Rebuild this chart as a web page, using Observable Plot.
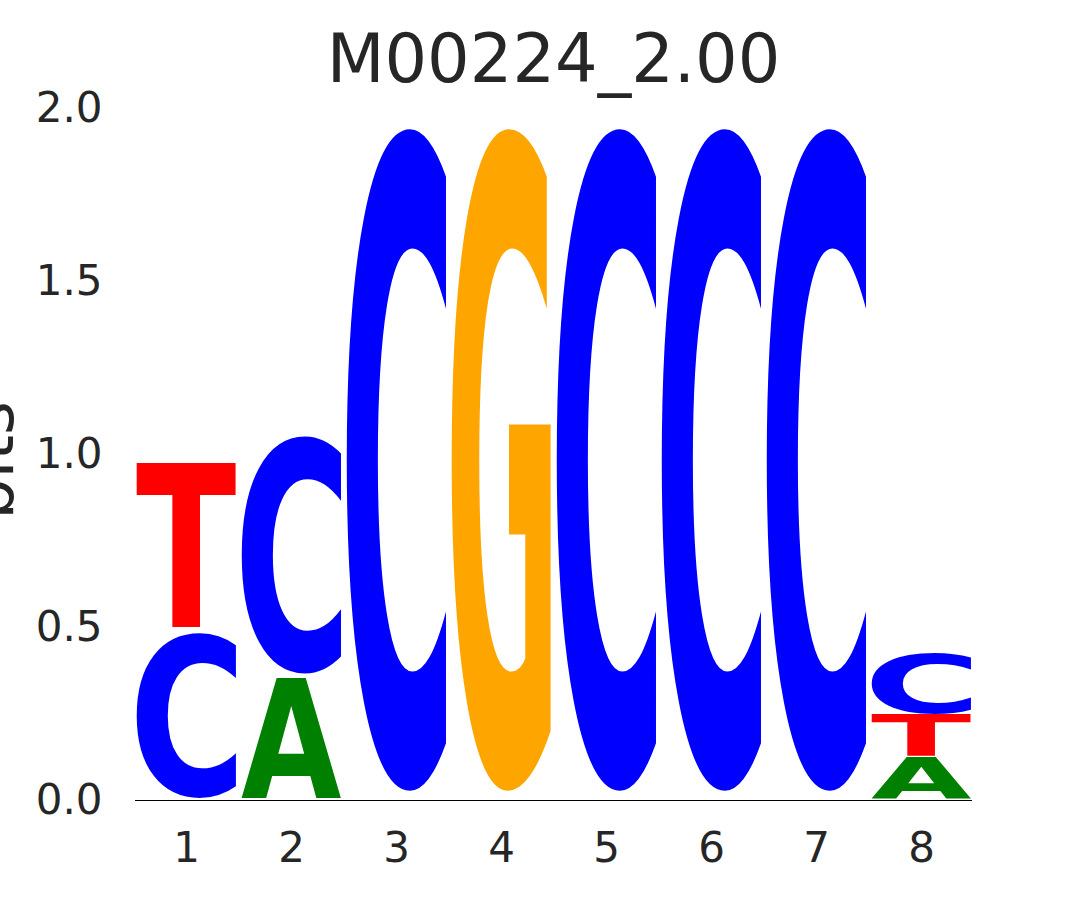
<!DOCTYPE html>
<html><head><meta charset="utf-8">
<script src="https://cdn.jsdelivr.net/npm/d3@7"></script>
<script src="https://cdn.jsdelivr.net/npm/@observablehq/plot@0.6"></script>
<style>
html,body{margin:0;padding:0;background:#fff;overflow:hidden}
#wrap{position:relative;width:1080px;height:900px}
#chart{position:absolute;left:0;top:0}
#title{position:absolute;left:0;top:19px;width:1107px;text-align:center;font-family:'DejaVu Sans',sans-serif;font-size:67px;line-height:80px;color:#262626;z-index:2}
</style></head><body>
<div id="wrap"><div id="chart"></div><div id="title"></div></div>
<script>
const title = "M00224_2.00";
const yLabel = "bits";
const positions = [1, 2, 3, 4, 5, 6, 7, 8];
const glyphPos  = [1, 1, 2, 2, 3, 4, 5, 6, 7, 8, 8, 8];
const glyphBase = ["C", "T", "A", "C", "C", "G", "C", "C", "C", "A", "T", "C"];
const glyphBits = [0.49, 0.49, 0.356, 0.706, 1.97, 1.97, 1.97, 1.97, 1.97, 0.124, 0.123, 0.18];
const baseColors = {A: "#008000", C: "#0000ff", G: "#ffa500", T: "#ff0000"};
const yTicks = [0, 0.5, 1, 1.5, 2];

const data = glyphPos.map((p, i) => ({position: p, base: glyphBase[i], bits: glyphBits[i]}));

document.getElementById("title").textContent = title;

const svg = Plot.plot({
  width: 1080, height: 900,
  marginTop: 108, marginBottom: 100, marginLeft: 135, marginRight: 108,
  style: {fontFamily: "'DejaVu Sans', sans-serif", background: "white", color: "#262626"},
  x: {type: "band", domain: positions, paddingInner: 0.05, paddingOuter: 0, align: 0.5, label: null},
  y: {domain: [0, 2], label: null},
  marks: [
    Plot.ruleY([0], {stroke: "#000", strokeWidth: 1.2}),
    Plot.barY(data, {x: "position", y: "bits", fill: d => baseColors[d.base], title: "base", inset: 0}),
    Plot.axisX({ticks: positions, tickSize: 0, tickPadding: 32, fontSize: 42, fill: "#262626", label: null}),
    Plot.axisY({ticks: yTicks, tickSize: 0, tickPadding: 33, fontSize: 42, fill: "#262626", tickFormat: d3.format(".1f"), label: null}),
    Plot.text([yLabel], {text: d => d, frameAnchor: "left", rotate: -90, dx: -123, dy: 6, fontSize: 65, textAnchor: "middle", lineAnchor: "bottom", fill: "#262626"})
  ]
});

// Turn each stacked bar into a letter glyph stretched to fill its bar
const ctx = document.createElement("canvas").getContext("2d");
const FS = 200;
ctx.font = `bold ${FS}px 'DejaVu Sans'`;
Array.from(svg.querySelectorAll("rect")).filter(r => r.querySelector("title")).forEach(r => {
  const letter = r.querySelector("title").textContent;
  const x = +r.getAttribute("x"), y = +r.getAttribute("y");
  const w = +r.getAttribute("width"), h = +r.getAttribute("height");
  const m = ctx.measureText(letter);
  const L = m.actualBoundingBoxLeft, R = m.actualBoundingBoxRight;
  const A = m.actualBoundingBoxAscent, D = m.actualBoundingBoxDescent;
  const pad = h * 0.0125;
  const top = y + pad, hh = h - 2 * pad;
  const sx = w / (L + R), sy = hh / (A + D);
  const t = document.createElementNS("http://www.w3.org/2000/svg", "text");
  t.setAttribute("transform", `translate(${x + L * sx},${top + A * sy}) scale(${sx},${sy})`);
  t.setAttribute("font-family", "DejaVu Sans");
  t.setAttribute("font-weight", "bold");
  t.setAttribute("font-size", FS);
  t.setAttribute("text-anchor", "start");
  t.setAttribute("fill", r.getAttribute("fill"));
  t.textContent = letter;
  r.replaceWith(t);
});

document.getElementById("chart").append(svg);
</script>
</body></html>
